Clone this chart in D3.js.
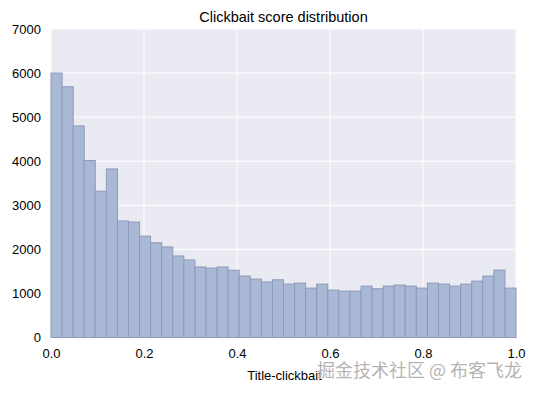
<!DOCTYPE html>
<html>
<head>
<meta charset="utf-8">
<script src="https://cdn.jsdelivr.net/npm/d3@7"></script>
<style>
    body { margin: 0; background: #fff; }
    text { font-family: "Liberation Sans", Arial, sans-serif; }
</style>
</head>
<body>
<div id="chart"></div>
<script>
// Histogram counts, 42 equal bins over [0, 1]
const counts = [6000, 5690, 4800, 4015, 3320, 3825, 2645, 2620, 2300, 2150,
    2055, 1850, 1760, 1600, 1575, 1600, 1525, 1395, 1325, 1260,
    1310, 1212, 1235, 1121, 1212, 1076, 1053, 1053, 1167, 1106,
    1167, 1190, 1167, 1121, 1235, 1212, 1167, 1212, 1280, 1394,
    1530, 1121];
const xTicks = [0, 0.2, 0.4, 0.6, 0.8, 1.0];
const yTicks = [0, 1000, 2000, 3000, 4000, 5000, 6000, 7000];
const title = "Clickbait score distribution";
const xLabel = "Title-clickbait";
const watermark = "掘金技术社区 @ 布客飞龙";

const width = 535, height = 393;
const margin = { top: 29, right: 19, bottom: 55.5, left: 51 };
const innerW = width - margin.left - margin.right;
const innerH = height - margin.top - margin.bottom;

const bins = counts.map((c, i) => ({ x0: i / counts.length, x1: (i + 1) / counts.length, count: c }));

const x = d3.scaleLinear().domain([0, 1]).range([0, innerW]);
const y = d3.scaleLinear().domain([0, 7000]).range([innerH, 0]);

const svg = d3.select("#chart").append("svg")
    .attr("width", width)
    .attr("height", height);

const g = svg.append("g").attr("transform", `translate(${margin.left},${margin.top})`);

// darkgrid background
g.append("rect")
    .attr("width", innerW)
    .attr("height", innerH)
    .attr("fill", "#eaeaf2");

// grid lines
g.selectAll(".ygrid").data(yTicks).enter().append("line")
    .attr("x1", 0).attr("x2", innerW)
    .attr("y1", d => y(d)).attr("y2", d => y(d))
    .attr("stroke", "#fff").attr("stroke-width", 1);
g.selectAll(".xgrid").data(xTicks).enter().append("line")
    .attr("y1", 0).attr("y2", innerH)
    .attr("x1", d => x(d)).attr("x2", d => x(d))
    .attr("stroke", "#fff").attr("stroke-width", 1);

// bars
g.selectAll(".bar").data(bins).enter().append("rect")
    .attr("x", d => x(d.x0))
    .attr("y", d => y(d.count))
    .attr("width", d => x(d.x1) - x(d.x0))
    .attr("height", d => innerH - y(d.count))
    .attr("fill", "#a9b8d5")
    .attr("stroke", "#8c9bb9")
    .attr("stroke-width", 1);

// axes (labels only, no lines or ticks)
const xAxis = g.append("g")
    .attr("transform", `translate(0,${innerH})`)
    .call(d3.axisBottom(x).tickValues(xTicks).tickFormat(d3.format(".1f")).tickSize(0).tickPadding(11));
const yAxis = g.append("g")
    .call(d3.axisLeft(y).tickValues(yTicks).tickFormat(d3.format("d")).tickSize(0).tickPadding(10));
[xAxis, yAxis].forEach(a => {
    a.select(".domain").remove();
    a.selectAll("text")
        .attr("fill", "#000")
        .style("font-size", "13px")
        .style("font-family", "'Liberation Sans', Arial, sans-serif");
});

// title
svg.append("text")
    .attr("x", margin.left + innerW / 2)
    .attr("y", 22)
    .attr("text-anchor", "middle")
    .style("font-size", "14.5px")
    .text(title);

// x label
svg.append("text")
    .attr("x", margin.left + innerW / 2 + 1)
    .attr("y", 380)
    .attr("text-anchor", "middle")
    .style("font-size", "13px")
    .text(xLabel);

// watermark
svg.append("text")
    .attr("x", 317)
    .attr("y", 377)
    .attr("fill", "#a6a6a6")
    .attr("fill-opacity", 0.85)
    .attr("stroke", "#fff")
    .attr("stroke-width", 0.6)
    .attr("paint-order", "stroke")
    .style("font-family", "'Noto Sans CJK SC', sans-serif")
    .style("font-size", "18px")
    .text(watermark);
</script>
</body>
</html>
